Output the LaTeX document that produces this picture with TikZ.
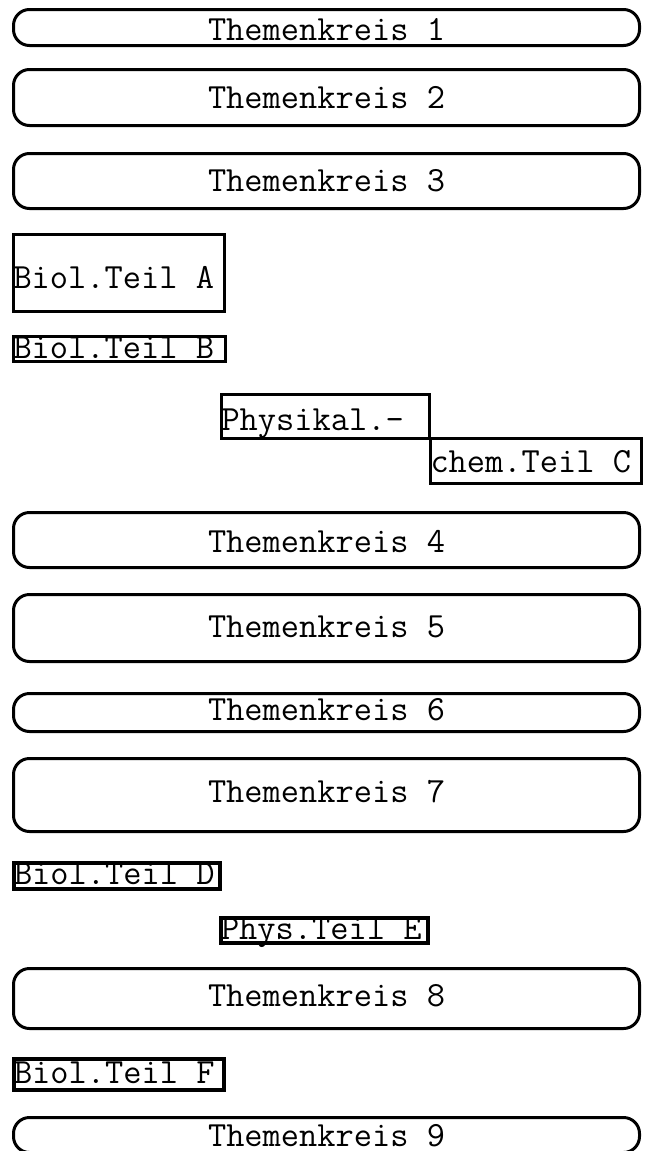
\documentclass[tikz,border=0pt]{standalone}
\tikzset{
  tw/.style={font={\ttfamily\fontsize{35.4}{35.4}\selectfont}},
  tk/.style={draw, line width=3pt, rounded corners=16pt, inner sep=0pt,
    minimum width=626pt, anchor=north west, tw},
  rb/.style={draw, line width=3pt, inner sep=0pt, anchor=north west, tw},
  rbb/.style={rb, line width=4pt}
}
\begin{document}
\begin{tikzpicture}[x=1pt,y=-1pt]
\useasboundingbox (0,0) rectangle (645,1151);
\clip (0,0) rectangle (645,1151);
\node[tk, text height=31pt, text depth=5pt]  (tk1) at (12,8)   {Themenkreis 1};
\node[tk, text height=39pt, text depth=17pt] (tk2) at (12,68)  {Themenkreis 2};
\node[tk, text height=38pt, text depth=17pt] (tk3) at (12,152) {Themenkreis 3};
\node[rb, text height=54pt, text depth=23pt] (bA) at (12,233) {\makebox[211pt][l]{Biol.Teil A}};
\node[rb, text height=22pt, text depth=3pt]  (bB) at (12,335) {\makebox[212pt][l]{Biol.Teil B}};
\node[rb, text height=36pt, text depth=8pt]  (pC1) at (220,393) {\makebox[208pt][l]{Physikal.-}};
\node[rb, text height=34pt, text depth=11pt] (pC2) at (429,437) {\makebox[211pt][l]{chem.Teil C}};
\node[tk, text height=40pt, text depth=15pt] (tk4) at (12,511) {Themenkreis 4};
\node[tk, text height=43pt, text depth=24pt] (tk5) at (12,593) {Themenkreis 5};
\node[tk, text height=27pt, text depth=11pt] (tk6) at (12,692) {Themenkreis 6};
\node[tk, text height=44pt, text depth=29pt] (tk7) at (12,757) {Themenkreis 7};
\node[rbb, text height=21pt, text depth=5pt] (bD) at (12,861) {\makebox[206pt][l]{Biol.Teil D}};
\node[rbb, text height=21pt, text depth=4pt] (pE) at (219,916) {\makebox[207pt][l]{Phys.Teil E}};
\node[tk, text height=38pt, text depth=22pt] (tk8) at (12,967) {Themenkreis 8};
\node[rbb, text height=24pt, text depth=7pt] (bF) at (12,1057) {\makebox[210pt][l]{Biol.Teil F}};
\node[tk, text height=29pt, text depth=6pt] (tk9) at (12,1116) {Themenkreis 9};
\end{tikzpicture}
\end{document}
